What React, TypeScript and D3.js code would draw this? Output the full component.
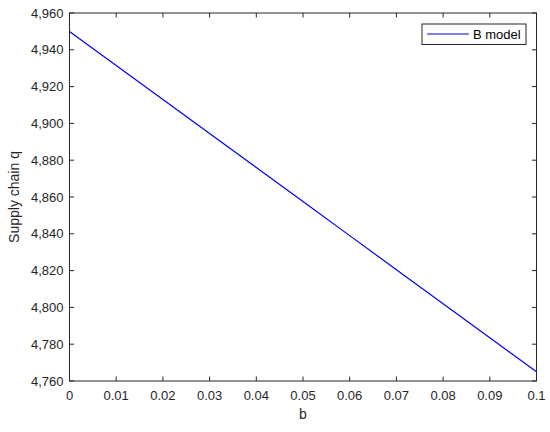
import React from "react";
import * as d3 from "d3";

const bValues = [0, 0.01, 0.02, 0.03, 0.04, 0.05, 0.06, 0.07, 0.08, 0.09, 0.1];
const qValues = [4950, 4931.5, 4913, 4894.5, 4876, 4857.5, 4839, 4820.5, 4802, 4783.5, 4765];
const xTicks = [0, 0.01, 0.02, 0.03, 0.04, 0.05, 0.06, 0.07, 0.08, 0.09, 0.1];
const yTicks = [4760, 4780, 4800, 4820, 4840, 4860, 4880, 4900, 4920, 4940, 4960];
const seriesName = "B model";

export default function App() {
  const W = 550, H = 432;
  const left = 69.5, right = 536.5, top = 13, bottom = 381;
  const x = d3.scaleLinear().domain([0, 0.1]).range([left, right]);
  const y = d3.scaleLinear().domain([4760, 4960]).range([bottom, top]);
  const line = d3.line<number>().x((_, i) => x(bValues[i])).y((d) => y(d));
  const font = "'Liberation Sans', Arial, sans-serif";
  const fmtY = d3.format(",");
  const fmtX = (v: number) => (v === 0 ? "0" : v === 0.1 ? "0.1" : v.toFixed(2));
  return (
    <svg width={W} height={H} style={{ position: "absolute", left: 0, top: 0, background: "#fff" }}>
      <rect x={0} y={0} width={W} height={H} fill="#fff" />
      <path d={line(qValues) || ""} fill="none" stroke="#0000ee" strokeWidth={1.2} />
      <rect x={left} y={top} width={right - left} height={bottom - top} fill="none" stroke="#262626" strokeWidth={1} />
      {xTicks.map((t) => (
        <g key={"x" + t}>
          <line x1={x(t)} x2={x(t)} y1={bottom} y2={bottom - 4.5} stroke="#262626" />
          <line x1={x(t)} x2={x(t)} y1={top} y2={top + 4.5} stroke="#262626" />
          <text x={x(t)} y={bottom + 19} textAnchor="middle" fontFamily={font} fontSize={13} fill="#262626">
            {fmtX(t)}
          </text>
        </g>
      ))}
      {yTicks.map((t) => (
        <g key={"y" + t}>
          <line x1={left} x2={left + 4.5} y1={y(t)} y2={y(t)} stroke="#262626" />
          <line x1={right} x2={right - 4.5} y1={y(t)} y2={y(t)} stroke="#262626" />
          <text x={left - 6} y={y(t) + 4.5} textAnchor="end" fontFamily={font} fontSize={13} fill="#262626">
            {fmtY(t)}
          </text>
        </g>
      ))}
      <text x={(left + right) / 2} y={419} textAnchor="middle" fontFamily={font} fontSize={14} fill="#262626">
        b
      </text>
      <text transform={`translate(19,${(top + bottom) / 2}) rotate(-90)`} textAnchor="middle" fontFamily={font} fontSize={14} fill="#262626">
        Supply chain q
      </text>
      <g>
        <rect x={422} y={24} width={104} height={20.5} fill="#fff" stroke="#262626" strokeWidth={1} />
        <line x1={427} x2={469} y1={34} y2={34} stroke="#0000ee" strokeWidth={1.2} />
        <text x={473} y={38.5} fontFamily={font} fontSize={13} fill="#000">
          {seriesName}
        </text>
      </g>
    </svg>
  );
}
